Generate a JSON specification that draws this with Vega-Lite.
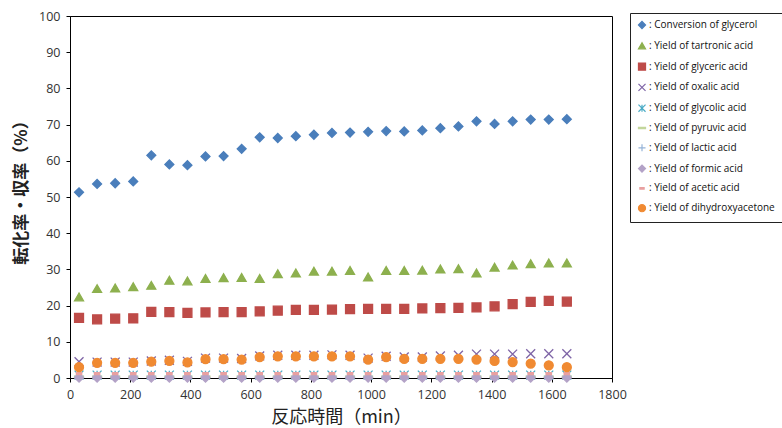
{
  "$schema": "https://vega.github.io/schema/vega-lite/v6.json",
  "width": 542,
  "height": 362,
  "autosize": "none",
  "padding": {"left": 70, "top": 16, "right": 170, "bottom": 50},
  "config": {
    "view": {"stroke": "#000000", "strokeWidth": 1},
    "font": "Open Sans",
    "axis": {"labelFont": "Open Sans", "labelFontSize": 12.5, "labelColor": "#333333", "domainColor": "#000000", "tickColor": "#000000", "grid": false, "titleFont": "Noto Sans CJK JP", "titleFontSize": 18, "titleFontWeight": "normal", "titleColor": "#222222"}
  },
  "data": {
    "values": [
      {"t": 30, "Conversion of glycerol": 51.3, "Yield of tartronic acid": 22.4, "Yield of glyceric acid": 16.6, "Yield of oxalic acid": 4.5, "Yield of glycolic acid": 0.8, "Yield of pyruvic acid": 0.3, "Yield of lactic acid": 0.5, "Yield of formic acid": 0.1, "Yield of acetic acid": 1.2, "Yield of dihydroxyacetone": 3.0},
      {"t": 90, "Conversion of glycerol": 53.6, "Yield of tartronic acid": 24.7, "Yield of glyceric acid": 16.2, "Yield of oxalic acid": 4.4, "Yield of glycolic acid": 0.8, "Yield of pyruvic acid": 0.3, "Yield of lactic acid": 0.5, "Yield of formic acid": 0.1, "Yield of acetic acid": 1.2, "Yield of dihydroxyacetone": 4.2},
      {"t": 150, "Conversion of glycerol": 53.8, "Yield of tartronic acid": 24.9, "Yield of glyceric acid": 16.4, "Yield of oxalic acid": 4.4, "Yield of glycolic acid": 0.8, "Yield of pyruvic acid": 0.3, "Yield of lactic acid": 0.5, "Yield of formic acid": 0.1, "Yield of acetic acid": 1.2, "Yield of dihydroxyacetone": 4.2},
      {"t": 210, "Conversion of glycerol": 54.3, "Yield of tartronic acid": 25.2, "Yield of glyceric acid": 16.5, "Yield of oxalic acid": 4.4, "Yield of glycolic acid": 0.8, "Yield of pyruvic acid": 0.3, "Yield of lactic acid": 0.5, "Yield of formic acid": 0.1, "Yield of acetic acid": 1.2, "Yield of dihydroxyacetone": 4.2},
      {"t": 270, "Conversion of glycerol": 61.5, "Yield of tartronic acid": 25.6, "Yield of glyceric acid": 18.3, "Yield of oxalic acid": 4.7, "Yield of glycolic acid": 0.8, "Yield of pyruvic acid": 0.3, "Yield of lactic acid": 0.5, "Yield of formic acid": 0.1, "Yield of acetic acid": 1.2, "Yield of dihydroxyacetone": 4.5},
      {"t": 330, "Conversion of glycerol": 59.0, "Yield of tartronic acid": 27.0, "Yield of glyceric acid": 18.2, "Yield of oxalic acid": 4.9, "Yield of glycolic acid": 0.8, "Yield of pyruvic acid": 0.3, "Yield of lactic acid": 0.5, "Yield of formic acid": 0.1, "Yield of acetic acid": 1.2, "Yield of dihydroxyacetone": 4.7},
      {"t": 390, "Conversion of glycerol": 58.8, "Yield of tartronic acid": 26.8, "Yield of glyceric acid": 18.0, "Yield of oxalic acid": 4.6, "Yield of glycolic acid": 0.8, "Yield of pyruvic acid": 0.3, "Yield of lactic acid": 0.5, "Yield of formic acid": 0.1, "Yield of acetic acid": 1.2, "Yield of dihydroxyacetone": 4.3},
      {"t": 450, "Conversion of glycerol": 61.2, "Yield of tartronic acid": 27.5, "Yield of glyceric acid": 18.1, "Yield of oxalic acid": 5.5, "Yield of glycolic acid": 0.8, "Yield of pyruvic acid": 0.3, "Yield of lactic acid": 0.5, "Yield of formic acid": 0.1, "Yield of acetic acid": 1.2, "Yield of dihydroxyacetone": 5.2},
      {"t": 510, "Conversion of glycerol": 61.3, "Yield of tartronic acid": 27.7, "Yield of glyceric acid": 18.2, "Yield of oxalic acid": 5.5, "Yield of glycolic acid": 0.8, "Yield of pyruvic acid": 0.3, "Yield of lactic acid": 0.5, "Yield of formic acid": 0.1, "Yield of acetic acid": 1.2, "Yield of dihydroxyacetone": 5.2},
      {"t": 570, "Conversion of glycerol": 63.3, "Yield of tartronic acid": 27.8, "Yield of glyceric acid": 18.2, "Yield of oxalic acid": 5.4, "Yield of glycolic acid": 0.8, "Yield of pyruvic acid": 0.3, "Yield of lactic acid": 0.5, "Yield of formic acid": 0.1, "Yield of acetic acid": 1.2, "Yield of dihydroxyacetone": 5.1},
      {"t": 630, "Conversion of glycerol": 66.5, "Yield of tartronic acid": 27.5, "Yield of glyceric acid": 18.4, "Yield of oxalic acid": 6.1, "Yield of glycolic acid": 0.8, "Yield of pyruvic acid": 0.3, "Yield of lactic acid": 0.5, "Yield of formic acid": 0.1, "Yield of acetic acid": 1.2, "Yield of dihydroxyacetone": 5.8},
      {"t": 690, "Conversion of glycerol": 66.3, "Yield of tartronic acid": 28.8, "Yield of glyceric acid": 18.6, "Yield of oxalic acid": 6.3, "Yield of glycolic acid": 0.8, "Yield of pyruvic acid": 0.3, "Yield of lactic acid": 0.5, "Yield of formic acid": 0.1, "Yield of acetic acid": 1.2, "Yield of dihydroxyacetone": 6.0},
      {"t": 750, "Conversion of glycerol": 66.8, "Yield of tartronic acid": 29.0, "Yield of glyceric acid": 18.8, "Yield of oxalic acid": 6.3, "Yield of glycolic acid": 0.8, "Yield of pyruvic acid": 0.3, "Yield of lactic acid": 0.5, "Yield of formic acid": 0.1, "Yield of acetic acid": 1.2, "Yield of dihydroxyacetone": 6.0},
      {"t": 810, "Conversion of glycerol": 67.2, "Yield of tartronic acid": 29.5, "Yield of glyceric acid": 18.8, "Yield of oxalic acid": 6.3, "Yield of glycolic acid": 0.8, "Yield of pyruvic acid": 0.3, "Yield of lactic acid": 0.5, "Yield of formic acid": 0.1, "Yield of acetic acid": 1.2, "Yield of dihydroxyacetone": 6.0},
      {"t": 870, "Conversion of glycerol": 67.7, "Yield of tartronic acid": 29.5, "Yield of glyceric acid": 18.9, "Yield of oxalic acid": 6.4, "Yield of glycolic acid": 0.8, "Yield of pyruvic acid": 0.3, "Yield of lactic acid": 0.5, "Yield of formic acid": 0.1, "Yield of acetic acid": 1.2, "Yield of dihydroxyacetone": 6.0},
      {"t": 930, "Conversion of glycerol": 67.8, "Yield of tartronic acid": 29.7, "Yield of glyceric acid": 19.0, "Yield of oxalic acid": 6.3, "Yield of glycolic acid": 0.8, "Yield of pyruvic acid": 0.3, "Yield of lactic acid": 0.5, "Yield of formic acid": 0.1, "Yield of acetic acid": 1.2, "Yield of dihydroxyacetone": 6.0},
      {"t": 990, "Conversion of glycerol": 68.0, "Yield of tartronic acid": 27.9, "Yield of glyceric acid": 19.1, "Yield of oxalic acid": 5.5, "Yield of glycolic acid": 0.8, "Yield of pyruvic acid": 0.3, "Yield of lactic acid": 0.5, "Yield of formic acid": 0.1, "Yield of acetic acid": 1.2, "Yield of dihydroxyacetone": 5.1},
      {"t": 1050, "Conversion of glycerol": 68.2, "Yield of tartronic acid": 29.7, "Yield of glyceric acid": 19.1, "Yield of oxalic acid": 6.0, "Yield of glycolic acid": 0.8, "Yield of pyruvic acid": 0.3, "Yield of lactic acid": 0.5, "Yield of formic acid": 0.1, "Yield of acetic acid": 1.2, "Yield of dihydroxyacetone": 5.8},
      {"t": 1110, "Conversion of glycerol": 68.1, "Yield of tartronic acid": 29.7, "Yield of glyceric acid": 19.1, "Yield of oxalic acid": 5.8, "Yield of glycolic acid": 0.8, "Yield of pyruvic acid": 0.3, "Yield of lactic acid": 0.5, "Yield of formic acid": 0.1, "Yield of acetic acid": 1.2, "Yield of dihydroxyacetone": 5.3},
      {"t": 1170, "Conversion of glycerol": 68.4, "Yield of tartronic acid": 29.8, "Yield of glyceric acid": 19.2, "Yield of oxalic acid": 5.8, "Yield of glycolic acid": 0.8, "Yield of pyruvic acid": 0.3, "Yield of lactic acid": 0.5, "Yield of formic acid": 0.1, "Yield of acetic acid": 1.2, "Yield of dihydroxyacetone": 5.3},
      {"t": 1230, "Conversion of glycerol": 69.0, "Yield of tartronic acid": 30.1, "Yield of glyceric acid": 19.3, "Yield of oxalic acid": 6.1, "Yield of glycolic acid": 0.8, "Yield of pyruvic acid": 0.3, "Yield of lactic acid": 0.5, "Yield of formic acid": 0.1, "Yield of acetic acid": 1.2, "Yield of dihydroxyacetone": 5.3},
      {"t": 1290, "Conversion of glycerol": 69.5, "Yield of tartronic acid": 30.2, "Yield of glyceric acid": 19.4, "Yield of oxalic acid": 6.3, "Yield of glycolic acid": 0.8, "Yield of pyruvic acid": 0.3, "Yield of lactic acid": 0.5, "Yield of formic acid": 0.1, "Yield of acetic acid": 1.2, "Yield of dihydroxyacetone": 5.3},
      {"t": 1350, "Conversion of glycerol": 70.9, "Yield of tartronic acid": 29.0, "Yield of glyceric acid": 19.5, "Yield of oxalic acid": 6.6, "Yield of glycolic acid": 0.8, "Yield of pyruvic acid": 0.3, "Yield of lactic acid": 0.5, "Yield of formic acid": 0.1, "Yield of acetic acid": 1.2, "Yield of dihydroxyacetone": 5.1},
      {"t": 1410, "Conversion of glycerol": 70.2, "Yield of tartronic acid": 30.6, "Yield of glyceric acid": 19.8, "Yield of oxalic acid": 6.6, "Yield of glycolic acid": 0.8, "Yield of pyruvic acid": 0.3, "Yield of lactic acid": 0.5, "Yield of formic acid": 0.1, "Yield of acetic acid": 1.2, "Yield of dihydroxyacetone": 4.7},
      {"t": 1470, "Conversion of glycerol": 70.9, "Yield of tartronic acid": 31.2, "Yield of glyceric acid": 20.4, "Yield of oxalic acid": 6.6, "Yield of glycolic acid": 0.8, "Yield of pyruvic acid": 0.3, "Yield of lactic acid": 0.5, "Yield of formic acid": 0.1, "Yield of acetic acid": 1.2, "Yield of dihydroxyacetone": 4.4},
      {"t": 1530, "Conversion of glycerol": 71.4, "Yield of tartronic acid": 31.6, "Yield of glyceric acid": 21.0, "Yield of oxalic acid": 6.7, "Yield of glycolic acid": 0.8, "Yield of pyruvic acid": 0.3, "Yield of lactic acid": 0.5, "Yield of formic acid": 0.1, "Yield of acetic acid": 1.2, "Yield of dihydroxyacetone": 4.0},
      {"t": 1590, "Conversion of glycerol": 71.4, "Yield of tartronic acid": 31.8, "Yield of glyceric acid": 21.3, "Yield of oxalic acid": 6.7, "Yield of glycolic acid": 0.8, "Yield of pyruvic acid": 0.3, "Yield of lactic acid": 0.5, "Yield of formic acid": 0.1, "Yield of acetic acid": 1.2, "Yield of dihydroxyacetone": 3.5},
      {"t": 1650, "Conversion of glycerol": 71.5, "Yield of tartronic acid": 31.8, "Yield of glyceric acid": 21.1, "Yield of oxalic acid": 6.7, "Yield of glycolic acid": 0.8, "Yield of pyruvic acid": 0.3, "Yield of lactic acid": 0.5, "Yield of formic acid": 0.1, "Yield of acetic acid": 1.2, "Yield of dihydroxyacetone": 3.0}
    ]
  },
  "transform": [
    {"fold": ["Conversion of glycerol", "Yield of tartronic acid", "Yield of glyceric acid", "Yield of oxalic acid", "Yield of glycolic acid", "Yield of pyruvic acid", "Yield of lactic acid", "Yield of formic acid", "Yield of acetic acid", "Yield of dihydroxyacetone"], "as": ["series", "v"]}
  ],
  "mark": {"type": "point", "filled": true, "opacity": 1, "size": 80, "strokeWidth": 1.3},
  "encoding": {
    "x": {
      "field": "t", "type": "quantitative",
      "scale": {"domain": [0, 1800], "nice": false},
      "axis": {"values": [0, 200, 400, 600, 800, 1000, 1200, 1400, 1600, 1800], "format": "d", "title": "反応時間（min）", "tickSize": 4, "labelPadding": 6, "titlePadding": 8, "labelFlush": false}
    },
    "y": {
      "field": "v", "type": "quantitative",
      "scale": {"domain": [0, 100], "nice": false},
      "axis": {"values": [0, 10, 20, 30, 40, 50, 60, 70, 80, 90, 100], "title": "転化率・収率（%）", "titleFontWeight": "bold", "titleFontSize": 17, "titleY": 172, "tickSize": 4, "labelPadding": 6, "titlePadding": 8}
    },
    "fill": {
      "field": "series", "type": "nominal",
      "scale": {
        "domain": ["Conversion of glycerol", "Yield of tartronic acid", "Yield of glyceric acid", "Yield of oxalic acid", "Yield of glycolic acid", "Yield of pyruvic acid", "Yield of lactic acid", "Yield of formic acid", "Yield of acetic acid", "Yield of dihydroxyacetone"],
        "range": ["#4A7EBB", "#8DB04E", "#BE4B48", "#7E64A6", "#4BACC6", "#C3D69B", "#95B3D7", "#B3A2C7", "#E8A0A0", "#F08A32"]
      },
      "legend": {
        "orient": "none", "legendX": 560, "legendY": -3, "title": null,
        "strokeColor": "#222222", "fillColor": "#ffffff", "padding": 7,
        "labelFont": "Open Sans", "labelFontSize": 10, "labelColor": "#111111",
        "labelExpr": "': ' + datum.label", "labelOffset": 2,
        "symbolSize": 50, "symbolStrokeWidth": 1.2, "rowPadding": 8.8
      }
    },
    "stroke": {
      "field": "series", "type": "nominal",
      "scale": {
        "domain": ["Conversion of glycerol", "Yield of tartronic acid", "Yield of glyceric acid", "Yield of oxalic acid", "Yield of glycolic acid", "Yield of pyruvic acid", "Yield of lactic acid", "Yield of formic acid", "Yield of acetic acid", "Yield of dihydroxyacetone"],
        "range": ["#4A7EBB", "#8DB04E", "#BE4B48", "#7E64A6", "#4BACC6", "#C3D69B", "#95B3D7", "#B3A2C7", "#E8A0A0", "#F08A32"]
      }
    },
    "shape": {
      "field": "series", "type": "nominal",
      "scale": {
        "domain": ["Conversion of glycerol", "Yield of tartronic acid", "Yield of glyceric acid", "Yield of oxalic acid", "Yield of glycolic acid", "Yield of pyruvic acid", "Yield of lactic acid", "Yield of formic acid", "Yield of acetic acid", "Yield of dihydroxyacetone"],
        "range": ["diamond", "triangle-up", "square", "M-1,-1L1,1M-1,1L1,-1", "M-1,-1L1,1M-1,1L1,-1M0,-1L0,1", "M-1,-0.18L1,-0.18L1,0.18L-1,0.18Z", "M-1,0L1,0M0,-1L0,1", "diamond", "M-0.6,-0.2L0.6,-0.2L0.6,0.2L-0.6,0.2Z", "circle"]
      }
    }
  }
}
